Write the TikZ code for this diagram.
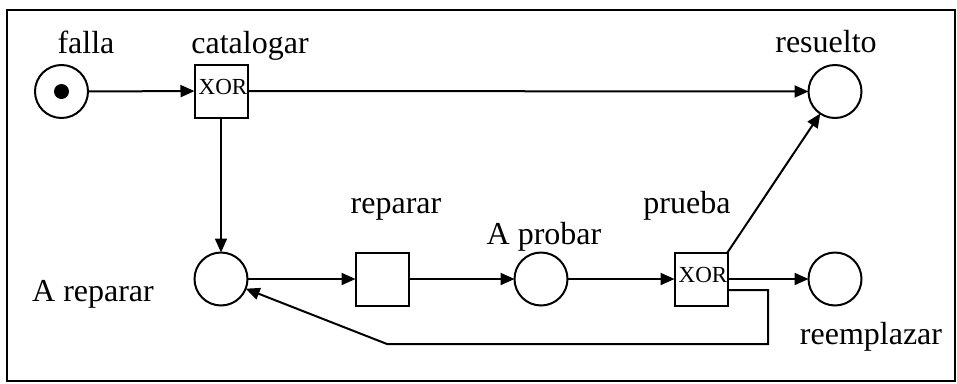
\documentclass[tikz,border=0pt]{standalone}
\usepackage{fontspec}
\setmainfont{Liberation Serif}
\usetikzlibrary{arrows.meta}
\begin{document}
\begin{tikzpicture}[x=1pt,y=-1pt,
  every node/.style={inner sep=0pt, outer sep=0pt},
  place/.style={circle, draw, line width=2pt, minimum size=53pt},
  trans/.style={rectangle, draw, line width=2pt, minimum size=53pt},
  lbl/.style={anchor=base, font=\fontsize{32}{38}\selectfont},
  xortxt/.style={anchor=base, font=\fontsize{23}{27}\selectfont},
  arc/.style={line width=2pt, -{Triangle[length=14pt,width=12pt]}},
  link/.style={line width=2pt}]

% canvas and frame
\fill[white] (0,0) rectangle (957,383);
\useasboundingbox (0,0) rectangle (957,383);
\draw[line width=2pt] (7,10) rectangle (955,381);

% places
\node[place] (falla) at (61.5,91.5) {};
\fill (falla.center) circle (7.5pt);
\node[place] (resuelto) at (835,91.5) {};
\node[place] (areparar) at (221,279) {};
\node[place] (aprobar) at (541,279) {};
\node[place] (reemplazar) at (835,279) {};

% transitions
\node[trans] (catalogar) at (221,91) {};
\node[trans] (reparar) at (382,279) {};
\node[trans] (prueba) at (701,279) {};
\node[xortxt] (xorcat) at (223,94) {XOR};
\node[xortxt] (xorpru) at (703,282) {XOR};

% labels
\node[lbl] (tfalla) at (86,53) {falla};
\node[lbl] (tcatalogar) at (250,53) {catalogar};
\node[lbl] (tresuelto) at (826,52) {resuelto};
\node[lbl] (treparar) at (396,213) {reparar};
\node[lbl] (taprobar) at (544,244) {A probar};
\node[lbl] (tprueba) at (687,213) {prueba};
\node[lbl] (tareparar) at (93,301) {A reparar};
\node[lbl] (treemplazar) at (871,344) {reemplazar};

% arcs
\draw[arc] (falla) -- (catalogar);
\draw[arc] (catalogar) -- (resuelto);
\draw[arc] (catalogar) -- (areparar);
\draw[arc] (areparar) -- (reparar);
\draw[arc] (reparar) -- (aprobar);
\draw[arc] (aprobar) -- (prueba);
\draw[arc] (prueba) -- (reemplazar);
\draw[arc] (prueba.north east) -- (resuelto);

% return arc from prueba back to A reparar
\coordinate (loopa) at (768,344);
\coordinate (loopb) at (387,344);
\draw[arc] ([yshift=-11pt]prueba.east) -| (loopa) -- (loopb) -- (areparar);
\end{tikzpicture}
\end{document}
